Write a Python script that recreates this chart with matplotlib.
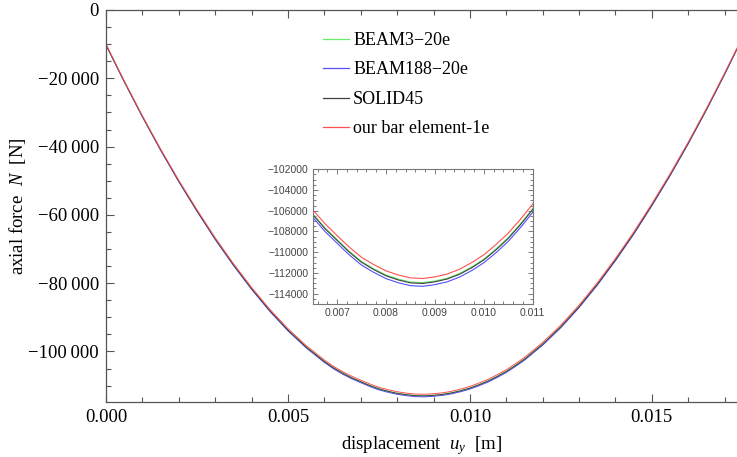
import matplotlib
matplotlib.use("Agg")
import matplotlib.pyplot as plt
from matplotlib.ticker import MultipleLocator, FuncFormatter
from matplotlib.lines import Line2D

plt.rcParams['font.family'] = ['Liberation Serif', 'DejaVu Serif']
plt.rcParams['mathtext.fontset'] = 'custom'
plt.rcParams['mathtext.rm'] = 'Liberation Serif'
plt.rcParams['mathtext.it'] = 'Liberation Serif:italic'

# displacement u_y [m]
u_y = [0.0, 0.0005, 0.001, 0.0015, 0.002, 0.0025, 0.003, 0.0035, 0.004, 0.0045,
       0.005, 0.0055, 0.006, 0.00625, 0.0065, 0.00675, 0.007, 0.00725, 0.0075, 0.00775,
       0.008, 0.00825, 0.0085, 0.00875, 0.009, 0.00925, 0.0095, 0.00975, 0.01, 0.01025,
       0.0105, 0.01075, 0.011, 0.01125, 0.0115, 0.012, 0.0125, 0.013, 0.0135, 0.014,
       0.0145, 0.015, 0.0155, 0.016, 0.0165, 0.017, 0.01734]

# axial force N [N]
n_bar = [-10000, -20720, -30980, -40700, -49880, -58490, -66690, -74240, -81240, -87630,
         -93330, -98270, -102510, -104350, -105900, -107250, -108400, -109520, -110500, -111200,
         -111800, -112200, -112480, -112540, -112380, -112110, -111650, -111010, -110250, -109260,
         -108160, -106820, -105360, -103620, -101760, -97360, -92280, -86430, -79900, -72750,
         -65070, -56740, -48000, -38690, -28840, -18470, -11130]
n_beam3 = [-10150, -20870, -31140, -40880, -50080, -58720, -66940, -74510, -81530, -87940,
           -93660, -98620, -102870, -104720, -106280, -107640, -108790, -109920, -110900, -111600,
           -112200, -112600, -112880, -112940, -112780, -112510, -112060, -111430, -110670, -109690,
           -108590, -107260, -105800, -104060, -102200, -97800, -92710, -86850, -80300, -73130,
           -65430, -57080, -48310, -38970, -29090, -18690, -11330]
n_solid45 = [-10200, -20920, -31190, -40940, -50150, -58800, -67020, -74590, -81610, -88020,
             -93740, -98700, -102950, -104800, -106360, -107720, -108870, -110000, -110980, -111680,
             -112280, -112680, -112960, -113020, -112860, -112590, -112140, -111510, -110750, -109770,
             -108670, -107340, -105880, -104140, -102280, -97880, -92790, -86920, -80370, -73200,
             -65490, -57140, -48370, -39020, -29140, -18730, -11370]
n_beam188 = [-10300, -21020, -31300, -41060, -50290, -58960, -67200, -74790, -81820, -88250,
             -93980, -98950, -103210, -105070, -106630, -107990, -109140, -110270, -111250, -111950,
             -112550, -112950, -113230, -113290, -113130, -112860, -112410, -111780, -111020, -110050,
             -108950, -107620, -106160, -104420, -102560, -98150, -93060, -87180, -80620, -73430,
             -65710, -57340, -48550, -39190, -29290, -18860, -11490]

labels = ['BEAM3\u221220e', 'BEAM188\u221220e', 'SOLID45', 'our bar element-1e']
colors = ['#66ee66', '#5050ff', '#404040', '#ff5050']
series = [n_beam3, n_beam188, n_solid45, n_bar]


def big_fmt(v, pos):
    if abs(v) < 1:
        return '0'
    s = f"{abs(v):,.0f}".replace(',', '\u2009')
    return ('\u2212' if v < 0 else '') + s


def small_fmt(v, pos):
    return f"\u2212{abs(v):.0f}" if v < 0 else f"{v:.0f}"


fig = plt.figure(figsize=(7.37, 4.57), dpi=100)
ax = fig.add_axes([106 / 737, 55 / 457, 631 / 737, 392 / 457])

for ys, c in zip(series, colors):
    ax.plot(u_y, ys, color=c, lw=0.7)

ax.set_xlim(0, 0.01734)
ax.set_ylim(-114800, 0)
ax.xaxis.set_major_locator(MultipleLocator(0.005))
ax.xaxis.set_minor_locator(MultipleLocator(0.001))
ax.yaxis.set_major_locator(MultipleLocator(20000))
ax.yaxis.set_minor_locator(MultipleLocator(5000))
ax.xaxis.set_major_formatter(FuncFormatter(lambda v, p: f"{v:.3f}"))
ax.yaxis.set_major_formatter(FuncFormatter(big_fmt))
ax.tick_params(which='both', direction='in', top=True, right=False, colors='#555555',
               labelcolor='black', labelsize=13.5, width=0.8)
ax.tick_params(which='major', length=6, pad=5)
ax.tick_params(which='minor', length=3.5)
ax.spines['right'].set_visible(False)
for s in ['left', 'top', 'bottom']:
    ax.spines[s].set_color('#555555')
    ax.spines[s].set_linewidth(0.9)

ax.set_xlabel(r'displacement  $u_y$  [m]', fontsize=13.5, labelpad=6)
ax.set_ylabel(r'axial force  $N$  [N]', fontsize=13.5, labelpad=0)

handles = [Line2D([0], [0], color=c, lw=0.9) for c in colors]
ax.legend(handles, labels, loc='upper left', bbox_to_anchor=(323 / 737, 1 - 32 / 457),
          bbox_transform=fig.transFigure, frameon=False, fontsize=13,
          handlelength=1.45, handletextpad=0.22, labelspacing=0.69,
          borderpad=0, borderaxespad=0)

# inset zoom on the minimum
ins = fig.add_axes([312.7 / 737, 153 / 457, 220 / 737, 134.7 / 457])
for ys, c in zip(series, colors):
    ins.plot(u_y, ys, color=c, lw=0.8)
ins.set_xlim(0.0065, 0.011)
ins.set_ylim(-115000, -102000)
ins.xaxis.set_major_locator(MultipleLocator(0.001))
ins.xaxis.set_minor_locator(MultipleLocator(0.0002))
ins.yaxis.set_major_locator(MultipleLocator(2000))
ins.yaxis.set_minor_locator(MultipleLocator(500))
ins.xaxis.set_major_formatter(FuncFormatter(lambda v, p: f"{v:.3f}"))
ins.yaxis.set_major_formatter(FuncFormatter(small_fmt))
ins.tick_params(which='both', direction='in', top=True, right=True, colors='#666666',
                labelcolor='#444444', width=0.6)
ins.tick_params(which='major', length=3.5, pad=3)
ins.tick_params(which='minor', length=2)
for lab in ins.get_xticklabels() + ins.get_yticklabels():
    lab.set_fontfamily(['Liberation Sans', 'DejaVu Sans'])
    lab.set_fontsize(7.5)
for s in ins.spines.values():
    s.set_color('#777777')
    s.set_linewidth(0.8)

fig.savefig('out.png', dpi=100)
